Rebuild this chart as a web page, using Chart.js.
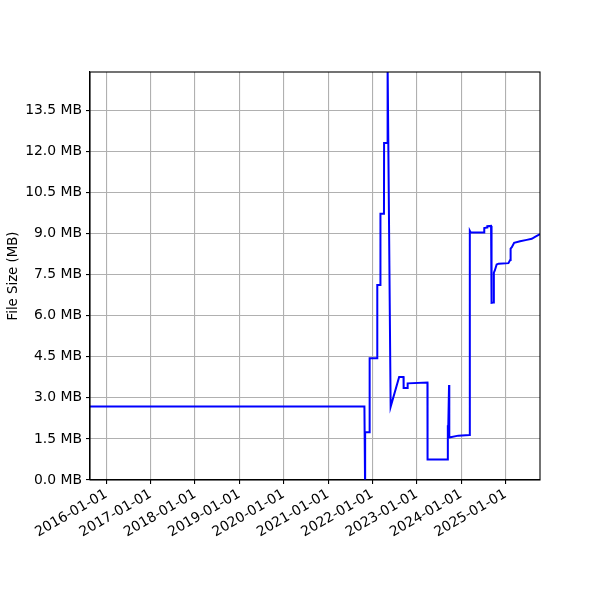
<!DOCTYPE html>
<html>
<head>
<meta charset="utf-8">
<script src="https://cdn.jsdelivr.net/npm/chart.js@4"></script>
<style>
  body { margin: 0; background: #fff; }
</style>
</head>
<body>
<canvas id="sizeChart" width="600" height="600"></canvas>
<script>
// commit dates and repo size in MB
var dates = ['2015-08-20', '2021-10-27', '2021-11-01', '2021-11-02', '2021-12-08', '2021-12-09',
  '2022-02-09', '2022-02-10', '2022-03-07', '2022-03-08', '2022-04-06', '2022-04-07',
  '2022-05-04', '2022-05-06', '2022-05-31', '2022-08-09', '2022-09-14', '2022-09-15',
  '2022-10-17', '2022-10-18', '2023-03-30', '2023-03-31', '2023-09-13', '2023-09-14',
  '2023-09-16', '2023-09-24', '2023-09-26', '2023-12-09', '2024-03-11', '2024-03-13',
  '2024-03-20', '2024-07-08', '2024-07-10', '2024-08-02', '2024-08-04', '2024-09-04',
  '2024-09-08', '2024-09-23', '2024-09-27', '2024-10-05', '2024-10-20', '2024-11-05',
  '2025-01-25', '2025-02-08', '2025-02-12', '2025-02-22', '2025-03-13', '2025-05-01',
  '2025-06-25', '2025-08-05', '2025-09-01', '2025-10-12'];
var sizes = [2.68, 2.68, 0.0, 1.74, 1.74, 4.45,
  4.45, 7.12, 7.12, 9.72, 9.72, 12.31,
  12.31, 15.2, 2.67, 3.76, 3.76, 3.36,
  3.36, 3.53, 3.56, 0.75, 0.75, 2.0,
  1.56, 3.47, 1.55, 1.62, 1.64, 9.1,
  9.04, 9.04, 9.2, 9.22, 9.27, 9.28,
  6.47, 6.48, 7.57, 7.65, 7.87, 7.9,
  7.92, 8.03, 8.45, 8.5, 8.66, 8.72,
  8.77, 8.81, 8.88, 8.98];
var tickYears = [2016, 2017, 2018, 2019, 2020, 2021, 2022, 2023, 2024, 2025];
var yTicks = [0, 1.5, 3, 4.5, 6, 7.5, 9, 10.5, 12, 13.5];

var points = dates.map(function (d, i) {
  return { x: Date.parse(d), y: sizes[i] };
});

function pad2(n) { return n < 10 ? '0' + n : '' + n; }

// top and right spines
var frame = {
  id: 'frame',
  afterDraw: function (chart) {
    var a = chart.chartArea, c = chart.ctx;
    c.save();
    c.strokeStyle = '#000';
    c.lineWidth = 1.1;
    c.strokeRect(a.left, a.top, a.right - a.left, a.bottom - a.top);
    c.restore();
  }
};

Chart.defaults.font.family = 'DejaVu Sans';
Chart.defaults.font.size = 13.9;
Chart.defaults.color = '#000';

var ctx = document.getElementById('sizeChart').getContext('2d');
new Chart(ctx, {
  type: 'line',
  data: {
    datasets: [{
      data: points,
      borderColor: '#0000ff',
      borderWidth: 2,
      pointRadius: 0,
      tension: 0,
      fill: false,
      clip: 0
    }]
  },
  options: {
    responsive: false,
    animation: false,
    devicePixelRatio: 1,
    layout: { padding: { top: 72, right: 60, left: 0, bottom: 0 } },
    plugins: { legend: { display: false }, tooltip: { enabled: false } },
    scales: {
      x: {
        type: 'linear',
        min: Date.parse('2015-08-20'),
        max: Date.parse('2025-10-12'),
        afterBuildTicks: function (scale) {
          scale.ticks = tickYears.map(function (y) { return { value: Date.UTC(y, 0, 1) }; });
        },
        afterFit: function (scale) { scale.height = 120; },
        ticks: {
          minRotation: 30,
          maxRotation: 30,
          padding: 2,
          callback: function (v) {
            var d = new Date(v);
            return d.getUTCFullYear() + '-' + pad2(d.getUTCMonth() + 1) + '-' + pad2(d.getUTCDate());
          }
        },
        grid: { color: '#b0b0b0', lineWidth: 1.1, tickColor: '#000', tickLength: 4 },
        border: { color: '#000', width: 1.1 }
      },
      y: {
        min: 0,
        max: 14.9,
        afterBuildTicks: function (scale) {
          scale.ticks = yTicks.map(function (v) { return { value: v }; });
        },
        afterFit: function (scale) { scale.width = 90; },
        ticks: {
          padding: 4,
          callback: function (v) { return v.toFixed(1) + ' MB'; }
        },
        title: { display: true, text: 'File Size (MB)', font: { size: 13.3 }, padding: { top: 6, bottom: 4 } },
        grid: { color: '#b0b0b0', lineWidth: 1.1, tickColor: '#000', tickLength: 4 },
        border: { color: '#000', width: 1.1 }
      }
    }
  },
  plugins: [frame]
});
</script>
</body>
</html>
